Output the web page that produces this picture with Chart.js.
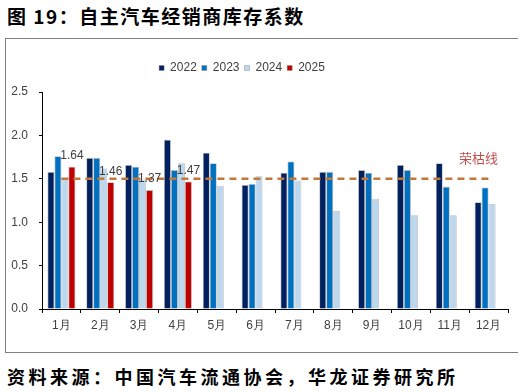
<!DOCTYPE html>
<html>
<head>
<meta charset="utf-8">
<style>
  body { margin: 0; background: #fff; width: 521px; height: 392px; overflow: hidden; position: relative; }
  .title { position: absolute; left: 7px; top: 4px; font: 700 19px "Noto Sans CJK SC"; letter-spacing: 1.5px; color: #000; line-height: 24px; white-space: nowrap; }
  .frame { position: absolute; left: 5px; top: 38px; width: 512px; height: 313px; border-top: 1px solid #808080; border-left: 1px solid #808080; border-bottom: 1px solid #808080; }
  .src { position: absolute; left: 7px; top: 365px; font: 700 18px "Noto Sans CJK SC"; letter-spacing: 3.5px; color: #000; line-height: 22px; white-space: nowrap; }
  canvas { position: absolute; left: 6px; top: 39px; }
</style>
</head>
<body>
<div class="title">图 19：自主汽车经销商库存系数</div>
<div class="frame"></div>
<canvas id="chart" width="510" height="312"></canvas>
<div class="src">资料来源：中国汽车流通协会，华龙证券研究所</div>

<script src="https://cdn.jsdelivr.net/npm/chart.js"></script>
<script>
  const months = ['1月', '2月', '3月', '4月', '5月', '6月', '7月', '8月', '9月', '10月', '11月', '12月']
  const y2022 = [1.58, 1.74, 1.66, 1.95, 1.80, 1.43, 1.57, 1.58, 1.60, 1.66, 1.68, 1.23]
  const y2023 = [1.76, 1.74, 1.64, 1.60, 1.68, 1.44, 1.70, 1.58, 1.57, 1.60, 1.41, 1.40]
  const y2024 = [1.50, 1.62, 1.49, 1.68, 1.42, 1.53, 1.48, 1.13, 1.27, 1.08, 1.08, 1.21]
  const y2025 = [1.64, 1.46, 1.37, 1.47, null, null, null, null, null, null, null, null]
  const boomLine = [1.5, 1.5, 1.5, 1.5, 1.5, 1.5, 1.5, 1.5, 1.5, 1.5, 1.5, 1.5]
  const yTicks = [0, 0.5, 1.0, 1.5, 2.0, 2.5]

  const tickColor = '#404040'
  const edge = 'rgba(140,140,140,0.6)'

  // move legend a bit left and leave more room under it, like the original
  const legendTweak = {
    id: 'legendTweak',
    beforeLayout(chart) {
      const lg = chart.legend
      if (lg && !lg._patched) {
        const fit = lg.fit.bind(lg)
        lg.fit = function () { fit(); this.height += 8 }
        lg._patched = true
      }
    },
    afterLayout(chart) {
      chart.legend.left -= 15
      chart.legend.right -= 15
    }
  }

  // value labels on 2025 bars + 荣枯线 text
  const labels = {
    id: 'labels',
    afterDatasetsDraw(chart) {
      const c = chart.ctx
      const meta = chart.getDatasetMeta(4)
      c.save()
      c.font = '12px "Liberation Sans"'
      c.fillStyle = tickColor
      c.textAlign = 'center'
      c.textBaseline = 'bottom'
      meta.data.forEach((el, i) => {
        if (y2025[i] == null) return
        c.fillText(y2025[i].toFixed(2), el.x, el.y - 5)
      })
      const x = chart.scales.x.getPixelForValue(11) - 10
      const y = chart.scales.y.getPixelForValue(1.5) - 21
      c.font = '13px "Noto Sans CJK SC"'
      c.fillStyle = '#C0504D'
      c.textBaseline = 'middle'
      c.fillText('荣枯线', x, y)
      c.restore()
    }
  }

  const ctx = document.getElementById('chart').getContext('2d')
  const chart = new Chart(ctx, {
    type: 'bar',
    data: {
      labels: months,
      datasets: [
        {
          type: 'line',
          label: '荣枯线',
          data: boomLine,
          borderColor: '#C0783C',
          borderWidth: 2.5,
          borderDash: [7, 5],
          pointRadius: 0,
          fill: false,
        },
        { label: '2022', data: y2022, backgroundColor: '#002060', borderColor: edge, borderWidth: 0.8 },
        { label: '2023', data: y2023, backgroundColor: '#0070C0', borderColor: edge, borderWidth: 0.8 },
        { label: '2024', data: y2024, backgroundColor: '#BDD7EE', borderColor: edge, borderWidth: 0.8 },
        { label: '2025', data: y2025, backgroundColor: '#C00000', borderColor: edge, borderWidth: 0.8 },
      ]
    },
    options: {
      responsive: false,
      animation: false,
      events: [],
      datasets: {
        bar: { categoryPercentage: 0.72, barPercentage: 1.0 }
      },
      layout: { padding: { top: 18, right: 8, left: 0, bottom: 0 } },
      plugins: {
        tooltip: { enabled: false },
        legend: {
          position: 'top',
          labels: {
            filter: item => item.datasetIndex > 0,
            boxWidth: 5,
            boxHeight: 5,
            padding: 5,
            color: tickColor,
            font: { family: 'Liberation Sans', size: 12 },
          }
        }
      },
      scales: {
        x: {
          offset: true,
          grid: { display: true, offset: true, drawOnChartArea: false, tickLength: 4, color: '#000' },
          border: { color: '#000', width: 1 },
          ticks: { color: tickColor, padding: 5, font: { family: 'Liberation Sans', size: 12 } },
          afterFit(s) { s.height = 42 },
        },
        y: {
          min: 0,
          max: 2.5,
          afterBuildTicks(s) { s.ticks = yTicks.map(v => ({ value: v })) },
          grid: { display: true, drawOnChartArea: false, tickLength: 3, color: '#000' },
          border: { color: '#000', width: 1 },
          ticks: {
            color: tickColor,
            padding: 11,
            font: { family: 'Liberation Sans', size: 12 },
            callback: v => Number(v).toFixed(1),
          },
          afterFit(s) { s.width = 36 },
        }
      }
    },
    plugins: [legendTweak, labels]
  })
</script>
</body>
</html>
